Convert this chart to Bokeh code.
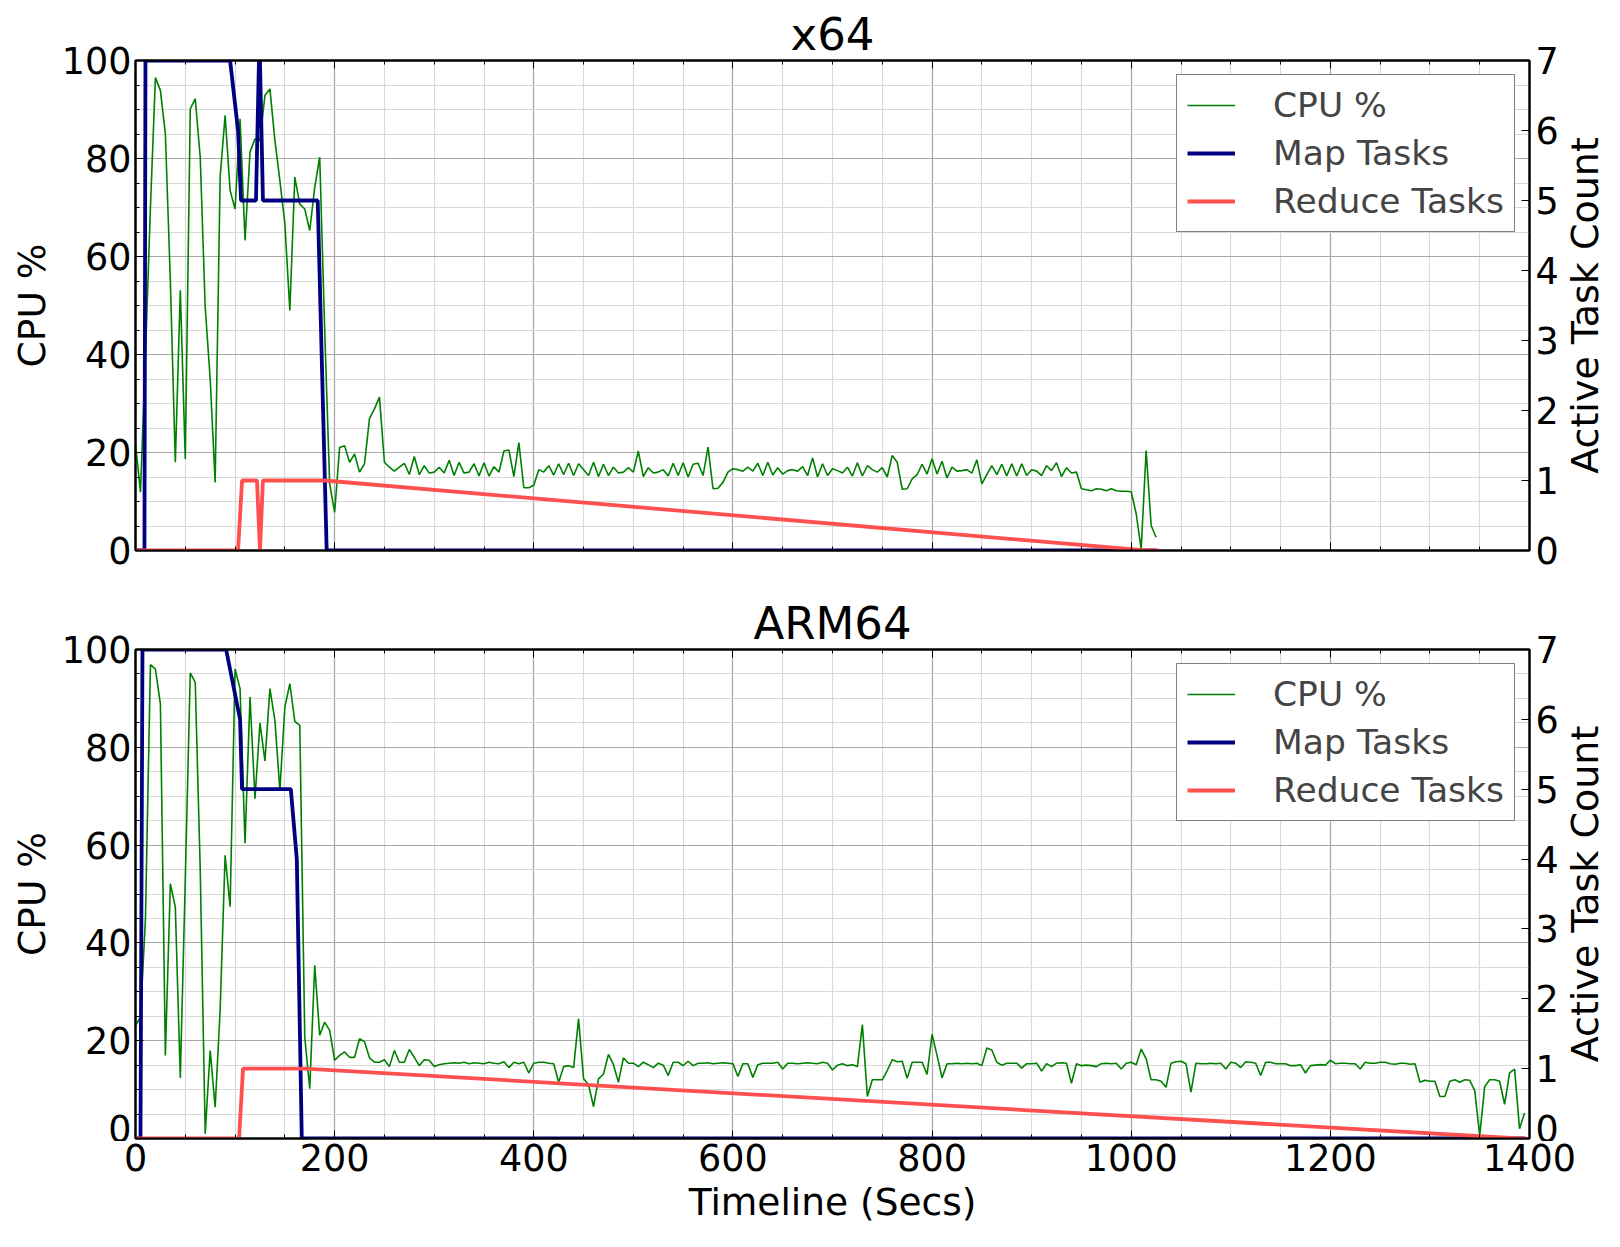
import math
from bokeh.plotting import figure
from bokeh.models import (Range1d, LinearAxis, SingleIntervalTicker, FixedTicker, Legend,
                          LegendItem, CustomJSTickFormatter, Grid)
from bokeh.core.properties import value
from bokeh.layouts import column, row
from bokeh.embed import file_html
from bokeh.resources import INLINE

FONT = "DejaVu Sans"
SAMPLE_SECS = 5

# ---------------- data ----------------
x64_cpu = [
    21.8, 11.9, 40, 70, 96.5, 93.9, 85.0, 55, 18.0, 53.1,
    18.7, 90.1, 92.2, 80.3, 49.7, 35, 13.9, 76.2, 88.8, 73.5,
    69.7, 88.1, 63.3, 81.3, 84.0, 83.7, 92.9, 94.2, 83.7, 75.5,
    66.7, 49.0, 76.2, 70.7, 69.7, 65.3, 74.1, 80.3, 45, 13.6,
    7.8, 21.0, 21.4, 18.0, 19.7, 16.0, 17.7, 26.9, 28.9, 31.3,
    18.0, 17.0, 16.2, 17.0, 17.8, 15.5, 19.2, 15.5, 17.3, 15.8,
    16.0, 17.0, 15.8, 18.4, 15.3, 18.0, 15.8, 16.0, 17.7, 15.2,
    17.9, 15.2, 17.1, 16.0, 20.3, 20.5, 15.1, 22.0, 12.8, 12.8,
    13.3, 16.5, 16.0, 17.3, 15.4, 17.7, 15.5, 17.8, 15.3, 17.7,
    16.5, 15.3, 18.0, 15.1, 17.6, 15.3, 17.0, 15.8, 16.0, 16.9,
    16.0, 20.3, 15.1, 16.9, 15.8, 16.0, 16.5, 15.2, 17.8, 15.3,
    17.9, 15.0, 17.6, 17.8, 15.3, 21.1, 12.6, 12.7, 13.9, 16.0,
    16.7, 16.5, 16.2, 17.0, 16.2, 17.8, 15.3, 18.0, 15.4, 16.9,
    15.6, 16.3, 16.5, 16.2, 17.1, 15.3, 18.9, 15.0, 17.7, 15.3,
    16.7, 16.3, 15.8, 17.0, 15.2, 17.9, 15.2, 17.3, 16.5, 16.0,
    16.9, 15.0, 19.4, 18.0, 12.5, 12.6, 14.6, 15.5, 17.6, 15.6,
    18.7, 15.6, 18.2, 14.8, 17.0, 16.2, 16.3, 16.5, 15.8, 18.5,
    13.6, 15.5, 17.3, 15.5, 17.6, 15.2, 17.7, 15.2, 17.7, 15.3,
    16.5, 16.2, 15.3, 17.3, 16.3, 17.9, 15.1, 16.9, 15.8, 16.0,
    12.6, 12.4, 12.2, 12.6, 12.5, 12.2, 12.6, 12.2, 12.1, 12.1,
    12.0, 7.5, 0.3, 20.4, 5.1, 2.7,
]

arm_cpu = [
    23.1, 24.8, 45, 96.9, 96.0, 88.9, 17.0, 52.1, 47.3, 12.4,
    53, 95.2, 93.3, 55, 1.0, 18.0, 6.4, 26.2, 57.9, 47.4,
    96.0, 92.0, 60.4, 90.3, 69.5, 85.0, 77.2, 92.0, 85.5, 71.2,
    88.2, 93.0, 85.3, 84.5, 20.7, 10.2, 35.4, 21.1, 23.8, 22.1,
    16.0, 17.0, 17.7, 16.6, 16.6, 20.4, 19.8, 16.5, 15.6, 15.6,
    16.1, 14.7, 18.0, 15.6, 15.6, 18.2, 16.6, 14.9, 16.1, 16.0,
    14.7, 15.1, 15.3, 15.4, 15.5, 15.4, 15.6, 15.3, 15.5, 15.4,
    15.3, 15.6, 15.4, 15.3, 15.7, 14.5, 15.6, 15.3, 15.6, 13.4,
    15.4, 15.6, 15.6, 15.4, 15.3, 11.5, 14.7, 14.9, 14.5, 24.5,
    12.2, 11.0, 6.5, 12.2, 13.2, 17.2, 15.1, 11.5, 16.5, 15.4,
    15.4, 14.7, 15.6, 15.1, 14.5, 15.4, 15.0, 12.9, 15.6, 15.6,
    14.9, 15.8, 14.9, 15.4, 15.4, 15.5, 15.3, 15.4, 15.5, 15.4,
    15.3, 12.7, 15.3, 15.3, 12.5, 15.1, 15.4, 15.4, 15.4, 15.6,
    14.2, 15.4, 15.4, 15.3, 15.4, 15.5, 15.4, 15.3, 15.6, 15.4,
    14.0, 15.0, 15.3, 14.9, 15.1, 14.7, 23.3, 8.6, 12.0, 12.0,
    12.0, 13.9, 16.1, 15.7, 15.8, 12.3, 15.6, 15.6, 15.6, 13.1,
    21.3, 17.0, 12.4, 15.3, 15.3, 15.4, 15.3, 15.4, 15.3, 15.4,
    14.9, 18.5, 18.1, 15.6, 15.0, 15.4, 15.4, 15.4, 14.4, 15.3,
    15.3, 15.4, 13.8, 15.3, 14.7, 15.4, 15.5, 15.4, 11.3, 15.3,
    14.9, 15.0, 14.9, 14.7, 15.3, 15.4, 15.3, 15.4, 14.2, 15.4,
    15.6, 15.1, 18.3, 16.3, 12.0, 12.0, 11.7, 10.5, 15.4, 15.7,
    15.8, 15.3, 9.5, 15.4, 15.3, 15.3, 15.4, 15.3, 15.4, 14.2,
    15.6, 15.4, 14.5, 15.7, 15.6, 15.4, 12.9, 15.6, 15.6, 15.3,
    15.3, 15.3, 14.9, 14.9, 15.1, 13.4, 14.9, 15.0, 15.1, 15.0,
    16.0, 15.3, 15.4, 15.4, 15.3, 15.3, 14.2, 15.6, 15.4, 15.4,
    15.6, 15.6, 15.3, 15.2, 15.4, 15.4, 15.2, 15.3, 11.5, 11.9,
    11.7, 11.7, 8.6, 8.6, 11.7, 12.0, 11.5, 12.0, 11.9, 9.8,
    0.6, 10.6, 12.0, 12.0, 11.7, 7.0, 13.4, 14.2, 2.0, 5.2,
]

x64_map_t = [0, 9, 10, 95, 103, 106, 121, 124, 125, 128, 183, 192, 1025]
x64_map_n = [0, 0, 7, 7, 6, 5, 5, 7, 7, 5, 5, 0, 0]
x64_red_t = [0, 103, 107, 122, 125, 128, 190, 1015, 1028]
x64_red_n = [0, 0, 1, 1, 0, 1, 1, 0, 0]

arm_map_t = [0, 5, 7, 91, 105, 107, 156, 162, 167, 1395]
arm_map_n = [0, 0, 7, 7, 6, 5, 5, 4, 0, 0]
arm_red_t = [0, 104, 108, 170, 1390, 1397]
arm_red_n = [0, 0, 1, 1, 0, 0]

x_ticks_interval = 200
cpu_ticks_interval = 20
task_ticks = [0, 1, 2, 3, 4, 5, 6, 7]

CPU_COLOR = "#008000"
MAP_COLOR = "#000080"
RED_COLOR = "#ff5050"

TICK_FS = "36.5px"
LABEL_FS = "37.5px"
SIDE_FS = "38px"
TITLE_FS = "45px"
LEGEND_FS = "34.5px"

MAIN_W = 1562      # main panel width (frame spans x 135..1529)
SIDE_W = 1620 - MAIN_W
TOP_B = 60         # border above each frame (holds the title)


def style_axis(ax, minor=True):
    ax.axis_line_color = "black"
    ax.axis_line_width = 2
    ax.major_tick_in = 8
    ax.major_tick_out = 0
    ax.minor_tick_in = 4 if minor else 0
    ax.minor_tick_out = 0
    ax.major_tick_line_color = "black"
    ax.minor_tick_line_color = "black" if minor else None
    ax.major_tick_line_width = 1
    ax.minor_tick_line_width = 1
    ax.major_label_text_font = FONT
    ax.major_label_text_font_size = TICK_FS
    ax.major_label_text_color = "black"
    ax.axis_label_text_font = FONT
    ax.axis_label_text_font_size = LABEL_FS
    ax.axis_label_text_font_style = "normal"
    ax.axis_label_text_color = "black"


def make_panel(title, cpu, map_t, map_n, red_t, red_n, height, bbot):
    p = figure(width=MAIN_W, height=height, output_backend="svg", toolbar_location=None,
               x_range=Range1d(0, 1400), y_range=Range1d(0, 100),
               x_axis_type=None, y_axis_type=None,
               min_border_left=135, min_border_right=MAIN_W - 1529,
               min_border_top=TOP_B, min_border_bottom=bbot)
    p.extra_y_ranges = {"tasks": Range1d(0, 7)}
    p.background_fill_color = "white"
    p.border_fill_color = "white"
    p.outline_line_color = "black"
    p.outline_line_width = 2

    xt = SingleIntervalTicker(interval=x_ticks_interval, num_minor_ticks=4)
    yt = SingleIntervalTicker(interval=cpu_ticks_interval, num_minor_ticks=4)

    for dim, tk in ((0, xt), (1, yt)):
        g = Grid(dimension=dim, ticker=tk)
        g.grid_line_color = "#a8a8a8"
        g.grid_line_width = 1.2
        g.minor_grid_line_color = "#d9d9d9"
        g.minor_grid_line_width = 1.2
        p.add_layout(g)

    blank = CustomJSTickFormatter(code="return ''")

    # bottom axis: tick marks only (labels live in the strip below)
    xb = LinearAxis(ticker=xt, formatter=blank)
    style_axis(xb)
    xb.major_label_standoff = 0
    xb.major_label_text_font_size = "0px"
    p.add_layout(xb, "below")

    xa = LinearAxis(ticker=xt, formatter=blank)
    style_axis(xa)
    xa.major_label_standoff = 0
    p.add_layout(xa, "above")

    yl = LinearAxis(ticker=yt, axis_label="CPU %")
    style_axis(yl)
    yl.major_label_standoff = 4
    yl.axis_label_standoff = 5
    p.add_layout(yl, "left")

    yr = LinearAxis(y_range_name="tasks", ticker=FixedTicker(ticks=task_ticks))
    style_axis(yr, minor=False)
    yr.major_label_standoff = 6
    p.add_layout(yr, "right")

    t = [SAMPLE_SECS * i for i in range(len(cpu))]
    r_cpu = p.line(t, cpu, line_color=CPU_COLOR, line_width=1.6)
    r_map = p.line(map_t, map_n, line_color=MAP_COLOR, line_width=3.8, y_range_name="tasks")
    r_red = p.line(red_t, red_n, line_color=RED_COLOR, line_width=3.8, y_range_name="tasks")

    legend = Legend(items=[LegendItem(label="CPU %", renderers=[r_cpu]),
                           LegendItem(label="Map Tasks", renderers=[r_map]),
                           LegendItem(label="Reduce Tasks", renderers=[r_red])],
                    location="top_right", margin=14, padding=10, spacing=8,
                    glyph_width=48, glyph_height=40, label_height=40, label_standoff=38,
                    label_text_font=FONT, label_text_font_size=LEGEND_FS,
                    border_line_color="black", border_line_width=1.5,
                    background_fill_color="white", background_fill_alpha=1.0)
    p.add_layout(legend)

    p.title.text = title
    p.title.align = "center"
    p.title.text_font = FONT
    p.title.text_font_size = TITLE_FS
    p.title.text_font_style = "normal"
    p.title.text_color = "black"
    p.title.standoff = 0
    return p


def side_label(height, bbot):
    """Strip right of a panel; its frame matches the panel frame vertically."""
    s = figure(width=SIDE_W, height=height, output_backend="svg", toolbar_location=None,
               title=None, x_range=Range1d(0, SIDE_W), y_range=Range1d(0, 100),
               x_axis_type=None, y_axis_type=None,
               min_border_left=0, min_border_right=0,
               min_border_top=TOP_B, min_border_bottom=bbot)
    s.outline_line_color = None
    s.background_fill_color = "white"
    s.border_fill_color = "white"
    s.text(x=[22], y=[50], text=["Active Task Count"], angle=math.pi / 2,
           text_align="center", text_baseline="middle",
           text_font=value(FONT), text_font_size=value(SIDE_FS), text_color="black")
    return s


def x_label_strip(height):
    """Full-width strip under the lower panel carrying the time tick labels and title."""
    s = figure(width=1620, height=height, output_backend="svg", toolbar_location=None,
               title=None, x_range=Range1d(0, 1400), y_range=Range1d(0, 1),
               x_axis_type=None, y_axis_type=None,
               min_border_left=135, min_border_right=1620 - 1529,
               min_border_top=0, min_border_bottom=height - 1)
    s.outline_line_color = None
    s.background_fill_color = "white"
    s.border_fill_color = "white"
    ax = LinearAxis(ticker=SingleIntervalTicker(interval=x_ticks_interval, num_minor_ticks=4),
                    axis_label="Timeline (Secs)")
    style_axis(ax)
    ax.axis_line_color = None
    ax.major_tick_line_color = None
    ax.minor_tick_line_color = None
    ax.major_tick_in = 0
    ax.minor_tick_in = 0
    ax.major_label_standoff = 1
    ax.axis_label_standoff = 6
    s.add_layout(ax, "below")
    return s


# top panel frame 60..550 ; lower panel frame 649..1138 ; label strip 1141..1247
H1, B1 = 589, 39
H2, B2 = 552, 3
H3 = 1247 - H1 - H2

p1 = make_panel("x64", x64_cpu, x64_map_t, x64_map_n, x64_red_t, x64_red_n, H1, B1)
p2 = make_panel("ARM64", arm_cpu, arm_map_t, arm_map_n, arm_red_t, arm_red_n, H2, B2)
s1 = side_label(H1, B1)
s2 = side_label(H2, B2)
xs = x_label_strip(H3)

layout = column(row(p1, s1, spacing=0), row(p2, s2, spacing=0), xs, spacing=0)
open("out.html", "w").write(file_html(layout, INLINE))
